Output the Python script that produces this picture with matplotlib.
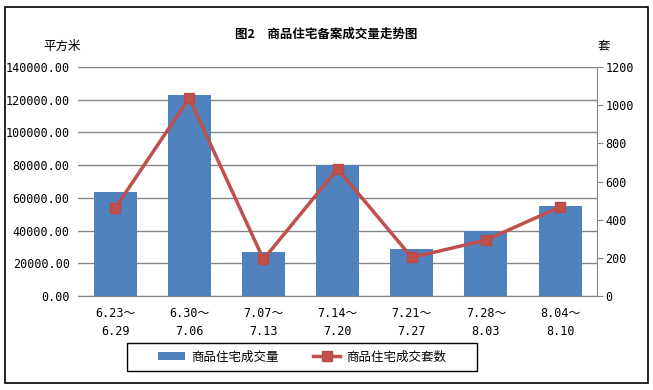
import matplotlib
matplotlib.use("Agg")
import matplotlib.pyplot as plt
from matplotlib.patches import Rectangle
import numpy as np

plt.rcParams['font.family'] = ['Noto Sans CJK SC', 'DejaVu Sans']
mono = ['DejaVu Sans Mono', 'Noto Sans CJK SC']

weeks = ["6.23～\n6.29", "6.30～\n7.06", "7.07～\n7.13", "7.14～\n7.20",
         "7.21～\n7.27", "7.28～\n8.03", "8.04～\n8.10"]
area = [63800, 123100, 27200, 80100, 29000, 39800, 55300]
units = [460, 1038, 192, 667, 202, 293, 467]

bar_color = '#4F81BD'
line_color = '#C0504D'
grid_color = '#868686'

fig = plt.figure(figsize=(6.53, 3.9), dpi=100)
ax = fig.add_axes([0.1195, 0.241, 0.795, 0.587])
ax2 = ax.twinx()

x = np.arange(len(weeks))
bars = ax.bar(x, area, width=0.58, color=bar_color, zorder=2, label='商品住宅成交量')
line, = ax2.plot(x, units, color=line_color, lw=2.5, marker='s', ms=7.5,
                 mfc=line_color, mec='#B84A47', label='商品住宅成交套数', zorder=3)

ax.set_xlim(-0.5, len(weeks) - 0.5)
ax.set_ylim(0, 140000)
yt = np.arange(0, 140001, 20000)
ax.set_yticks(yt)
ax.set_yticklabels(["%.2f" % v for v in yt], family=mono, fontsize=8.5)
ax2.set_ylim(0, 1200)
yt2 = np.arange(0, 1201, 200)
ax2.set_yticks(yt2)
ax2.set_yticklabels([str(v) for v in yt2], family=mono, fontsize=8.5)

ax.set_xticks(x)
ax.set_xticklabels(weeks, linespacing=1.5, family=mono, fontsize=8.5)
ax.yaxis.grid(True, color=grid_color, lw=1, zorder=0)
ax.set_axisbelow(True)

for a in (ax, ax2):
    for s in ['top', 'left', 'right']:
        a.spines[s].set_visible(False)
    a.spines['bottom'].set_color(grid_color)
ax2.spines['right'].set_visible(True)
ax2.spines['right'].set_color(grid_color)
ax2.spines['bottom'].set_visible(False)

ax.tick_params(axis='x', length=0, pad=8)
ax.tick_params(axis='y', length=0, pad=6)
ax2.tick_params(axis='y', length=4, color=grid_color, pad=2)

fig.text(0.5, 0.913, "图2　商品住宅备案成交量走势图", ha='center', va='center',
         fontsize=9, fontweight='bold')
fig.text(0.095, 0.882, "平方米", ha='center', va='center', fontsize=9)
fig.text(0.924, 0.882, "套", ha='center', va='center', fontsize=9)

leg = fig.legend([bars, line], ['商品住宅成交量', '商品住宅成交套数'],
                 loc='center', bbox_to_anchor=(0.463, 0.085), ncol=2,
                 fontsize=9, frameon=False, handlelength=2.2, handletextpad=0.5,
                 columnspacing=2.7)

# legend box drawn separately (wider than the entries)
fig.patches.append(Rectangle((127 / 653, 1 - 371 / 390), 350 / 653, 28 / 390,
                             transform=fig.transFigure, fill=False,
                             edgecolor='black', lw=1))
# outer chart frame
fig.patches.append(Rectangle((0.007, 0.018), 0.985, 0.963, transform=fig.transFigure,
                             fill=False, edgecolor='black', lw=1.2))

fig.savefig('out.png', dpi=100)
